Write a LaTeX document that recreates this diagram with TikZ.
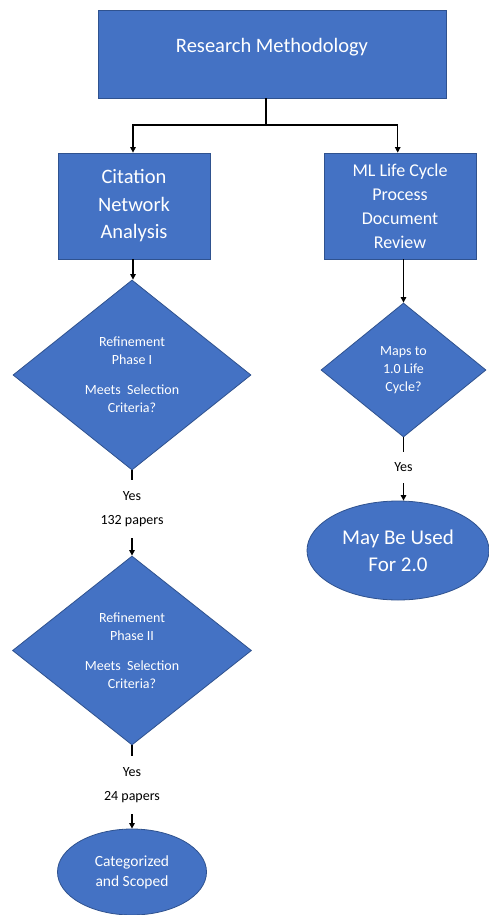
\documentclass[tikz,border=0pt]{standalone}
\usepackage{fontspec}
\setmainfont{Carlito}
\usetikzlibrary{shapes.geometric,arrows.meta}
\definecolor{boxfill}{HTML}{4472C4}
\definecolor{boxline}{HTML}{2F528F}
\tikzset{
  blk/.style={draw=boxline,fill=boxfill,line width=0.8pt,text=white,inner sep=0pt,align=center},
  rbox/.style={blk,rectangle},
  dbox/.style={blk,diamond,font=\fontsize{14}{18}\selectfont},
  ebox/.style={blk,ellipse},
  lbl/.style={text=black,inner sep=0pt,font=\fontsize{14}{18}\selectfont},
  conn/.style={draw=black,line width=1.1pt},
  arr/.style={conn,-{Triangle[width=5.5pt,length=5.5pt]}},
}
\begin{document}
\begin{tikzpicture}[x=1pt,y=-1pt]
\useasboundingbox[fill=white] (0,0) rectangle (489,915);
% top box
\node[rbox,minimum width=348pt,minimum height=88pt] (top) at (272,54) {};
\node[text=white,inner sep=0pt,font=\fontsize{20.5}{24}\selectfont] (toptxt) at (272,47) {Research Methodology};
% second row
\node[rbox,minimum width=152pt,minimum height=106pt,font=\fontsize{20.5}{27.5}\selectfont] (cit) at (134,206) {Citation\\Network\\Analysis};
\node[rbox,minimum width=152pt,minimum height=106pt,font=\fontsize{18}{24}\selectfont] (ml) at (400,206) {ML Life Cycle\\Process\\Document\\Review};
% left branch
\node[dbox,minimum width=238pt,minimum height=190pt] (d1) at (132,375) {Refinement\\Phase I\\[12pt]Meets\ \ Selection\\Criteria?};
\coordinate (d1e) at (132,480);
\node[lbl] (yes1) at (132,496) {Yes};
\node[lbl] (p132) at (132,521) {132 papers};
\coordinate (d1s) at (132,538);
\node[dbox,minimum width=239pt,minimum height=189pt] (d2) at (132,650.5) {Refinement\\Phase II\\[12pt]Meets\ \ Selection\\Criteria?};
\coordinate (d2e) at (132,756);
\node[lbl] (yes2) at (132,772) {Yes};
\node[lbl] (p24) at (132,797) {24 papers};
\coordinate (d2s) at (132,814);
\node[ebox,minimum width=149pt,minimum height=86pt,font=\fontsize{15.5}{20}\selectfont] (cat) at (132,872) {Categorized\\and Scoped};
% right branch
\node[dbox,minimum width=165pt,minimum height=134pt] (d3) at (403.5,370) {Maps to\\1.0 Life\\Cycle?};
\coordinate (d3e) at (403.5,452);
\node[lbl] (yes3) at (403.5,467) {Yes};
\coordinate (d3s) at (403.5,483);
\node[ebox,minimum width=182pt,minimum height=99pt,font=\fontsize{21}{27}\selectfont] (may) at (398,550.5) {May Be Used\\For 2.0};
% connectors
\coordinate (j) at (266,125);
\draw[conn] ([xshift=-6pt]top.south) -- (j);
\draw[arr] (j) -| ([xshift=-1pt]cit.north);
\draw[arr] (j) -| ([xshift=-2.3pt]ml.north);
\draw[arr] ([xshift=-1pt]cit.south) -- ([xshift=-1pt]cit.south |- d1.north);
\draw[conn] (d1.south) -- (d1e);
\draw[arr] (d1s) -- (d2.north);
\draw[conn] (d2.south) -- (d2e);
\draw[arr] (d2s) -- (cat.north);
\draw[arr] (ml.south -| d3.north) -- (d3.north);
\draw[conn] (d3.south) -- (d3e);
\draw[arr] (d3s) -- (d3s |- may.north);
\end{tikzpicture}
\end{document}
